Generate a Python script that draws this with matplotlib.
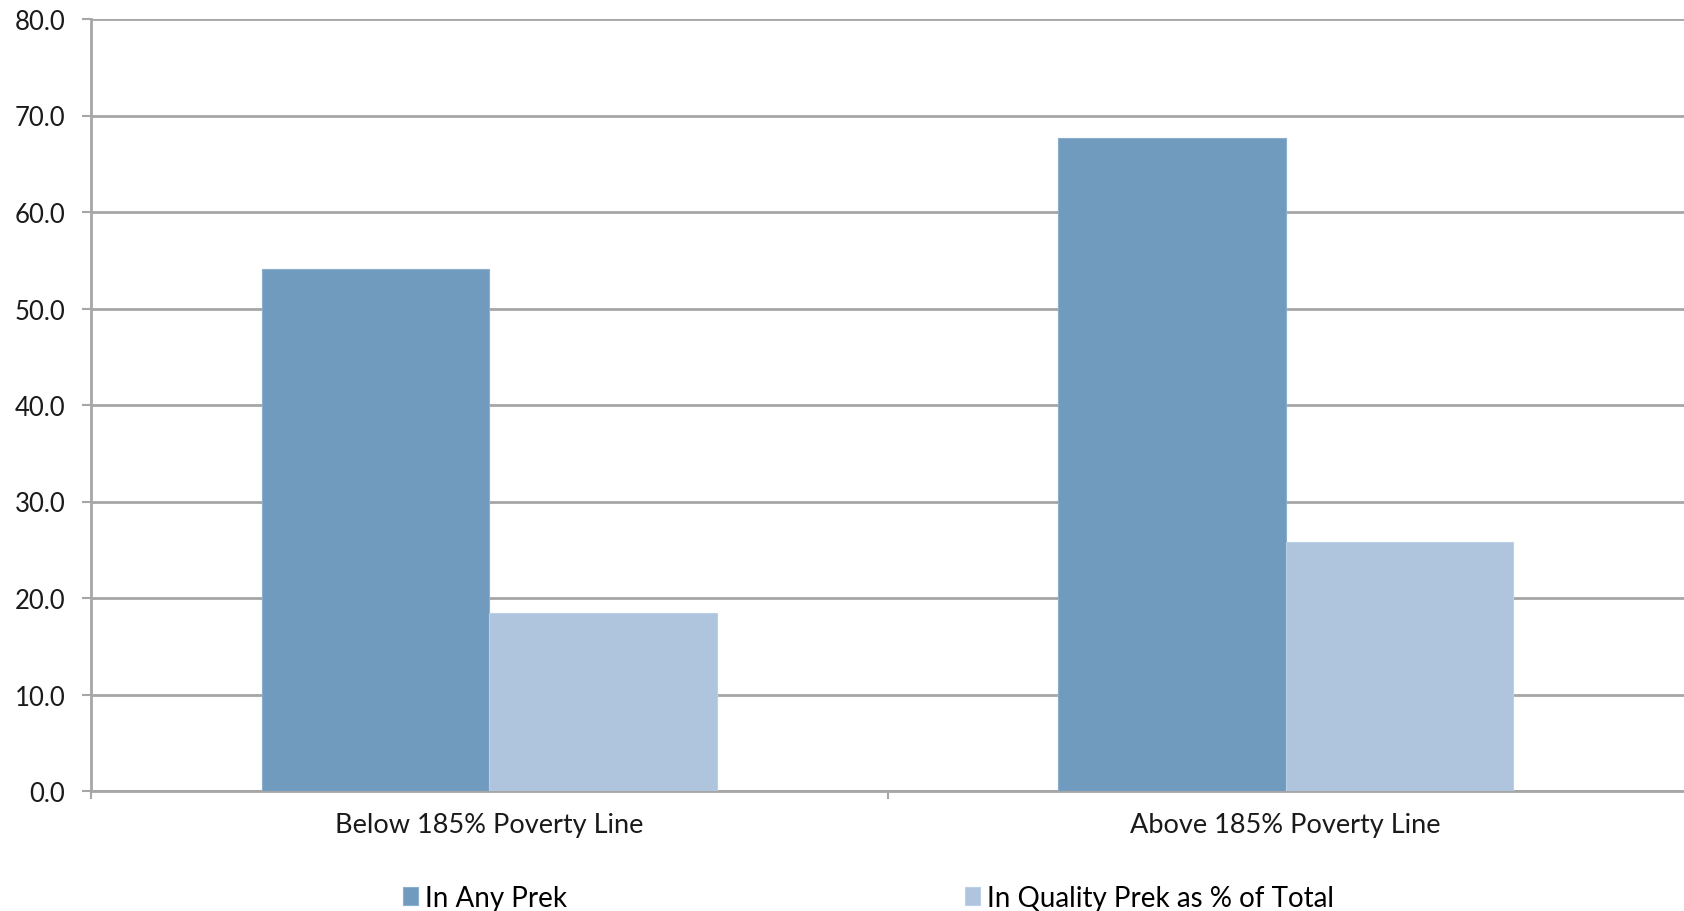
import matplotlib
matplotlib.use("Agg")
import matplotlib.pyplot as plt
import numpy as np

# Datos
categories = ["Below 185% Poverty Line", "Above 185% Poverty Line"]
any_prek = [54.1, 67.7]
quality_prek = [18.4, 25.8]
series_names = ["In Any Prek", "In Quality Prek as % of Total"]
yticks = [0, 10, 20, 30, 40, 50, 60, 70, 80]

dark = "#709BBF"
light = "#AFC5DD"
grid_c = "#A6A6A6"

plt.rcParams["font.family"] = ["Lato", "DejaVu Sans"]

fig = plt.figure(figsize=(16.84, 9.12), dpi=100)
ax = fig.add_axes([91 / 1684, 1 - 792 / 912, 1 - 91 / 1684, (792 - 20) / 912])

x = np.arange(len(categories))
w = 0.2857
b1 = ax.bar(x - w / 2, any_prek, w, color=dark, edgecolor="#8AAECC", linewidth=0.8,
            label=series_names[0], zorder=3)
b2 = ax.bar(x + w / 2, quality_prek, w, color=light, edgecolor="#BCD0E5", linewidth=0.8,
            label=series_names[1], zorder=3)

ax.set_xlim(-0.5, 1.5)
ax.set_ylim(0, 80)
ax.set_yticks(yticks)
ax.set_yticklabels([f"{v:.1f}" for v in yticks])
ax.yaxis.grid(True, color=grid_c, linewidth=2, zorder=0)
ax.set_axisbelow(True)

for s in ["top", "right"]:
    ax.spines[s].set_visible(False)
for s in ["left", "bottom"]:
    ax.spines[s].set_color(grid_c)
    ax.spines[s].set_linewidth(2)

ax.set_xticks(x)
ax.set_xticklabels(categories)
ax.set_xticks([-0.5, 0.5], minor=True)
ax.tick_params(axis="x", which="major", length=0, pad=15, labelsize=19.5, colors="#1a1a1a")
ax.tick_params(axis="x", which="minor", length=6, width=1.5, color=grid_c)
ax.tick_params(axis="y", length=6.5, width=1.5, color=grid_c, pad=12, labelsize=18.5,
               labelcolor="#1a1a1a")

# Leyenda abajo
fig.legend(handles=[b1, b2], labels=series_names, loc="lower left",
           bbox_to_anchor=(392 / 1684, -0.012), ncol=2, frameon=False, fontsize=20,
           handlelength=0.55, handleheight=0.6, handletextpad=0.25, columnspacing=14.3,
           borderaxespad=0.0)

fig.savefig("out.png", dpi=100)
